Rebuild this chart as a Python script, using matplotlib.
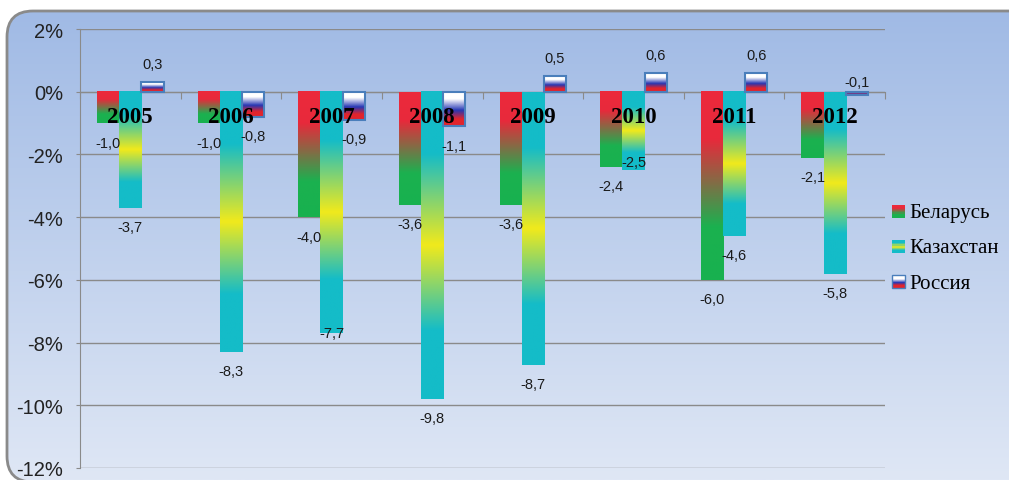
import numpy as np
import matplotlib
matplotlib.use("Agg")
from matplotlib import pyplot as plt
from matplotlib.colors import LinearSegmentedColormap
from matplotlib.patches import FancyBboxPatch, Rectangle
from matplotlib.legend_handler import HandlerBase

years = ['2005', '2006', '2007', '2008', '2009', '2010', '2011', '2012']
series = ['Беларусь', 'Казахстан', 'Россия']
belarus = [-1.0, -1.0, -4.0, -3.6, -3.6, -2.4, -6.0, -2.1]
kazakhstan = [-3.7, -8.3, -7.7, -9.8, -8.7, -2.5, -4.6, -5.8]
russia = [0.3, -0.8, -0.9, -1.1, 0.5, 0.6, 0.6, -0.1]
y_ticks = [2, 0, -2, -4, -6, -8, -10, -12]

# gradients, top -> bottom of each bar
cmaps = [
    LinearSegmentedColormap.from_list('by', [(0, '#ec2a3c'), (0.25, '#e8293b'), (0.72, '#1bb150'), (1, '#18b14f')]),
    LinearSegmentedColormap.from_list('kz', [(0, '#14bcc8'), (0.2, '#14bcc8'), (0.5, '#f3ea1a'), (0.78, '#14bcc8'), (1, '#14bcc8')]),
    LinearSegmentedColormap.from_list('ru', [(0, '#ffffff'), (0.22, '#ffffff'), (0.55, '#2637b4'), (0.8, '#e2242c'), (1, '#e2242c')]),
]
# manual label nudges (points), like the hand-moved labels in the original
nudge = {(1, 2): 14, (1, 5): 20, (2, 7): 24}

W, H = 1009, 481
fig = plt.figure(figsize=(W / 100, H / 100), dpi=100)
fig.patch.set_facecolor('white')

# background panel with rounded border and vertical gradient (pixel coords, y up)
bg = fig.add_axes([0, 0, 1, 1])
bg.axis('off')
panel = FancyBboxPatch((7, -2), W + 20, H - 12 + 2, boxstyle='round,pad=0,rounding_size=26',
                       fc='none', ec='#8a8a8a', lw=2, zorder=3)
bg.add_patch(panel)
grad = np.linspace(0, 1, 256)[:, None, None]
top_c = np.array([160, 186, 229]) / 255
bot_c = np.array([223, 231, 245]) / 255
img = bg.imshow(top_c + (bot_c - top_c) * grad, extent=(7, W, 0, H - 12),
                origin='upper', aspect='auto', zorder=1)
img.set_clip_path(panel)
bg.set_xlim(0, W)
bg.set_ylim(0, H)

ax = fig.add_axes([80 / W, 1 - 469 / H, 805 / W, 439 / H])
ax.patch.set_alpha(0)

w = 0.22
x = np.arange(len(years))
for s, vals in enumerate([belarus, kazakhstan, russia]):
    cm = cmaps[s]
    for i, v in enumerate(vals):
        x0 = x[i] + (s - 1) * w - w / 2
        ax.bar(x[i] + (s - 1) * w, v, w, color='none',
               edgecolor='#4a7ebb' if s == 2 else 'none', lw=1.5, zorder=4)
        ytop, ybot = max(v, 0), min(v, 0)
        g = cm(np.linspace(0, 1, 128))[:, None, :3]
        ax.imshow(g, extent=(x0, x0 + w, ybot, ytop), aspect='auto', zorder=3,
                  interpolation='bilinear')
        lab = f'{v:.1f}'.replace('.', ',')
        if v > 0:
            off = 13
        elif abs(v) < 0.2:
            off = 9
        else:
            off = -14 + nudge.get((s, i), 0)
        ax.annotate(lab, (x[i] + (s - 1) * w, v), xytext=(0, off), textcoords='offset points',
                    ha='center', va='center', fontsize=10.5, family='Liberation Sans',
                    color='#1a1a1a', zorder=6)

ax.set_xlim(-0.5, len(years) - 0.5)
ax.set_ylim(-12, 2)

for i, yr in enumerate(years):
    ax.annotate(yr, (x[i], 0), xytext=(0, -18), textcoords='offset points', ha='center',
                va='center', fontsize=16.5, fontweight='bold', family='Liberation Serif',
                color='black', zorder=7)

ax.set_yticks(y_ticks)
ax.set_yticklabels([f'{t}%' for t in y_ticks], fontsize=14.5, family='Liberation Sans', color='#222222')
ax.yaxis.grid(True, color='#8a8a8a', lw=1)
ax.set_axisbelow(True)
ax.tick_params(axis='y', length=3, color='#8a8a8a', pad=9)
ax.set_xticks(np.arange(len(years) + 1) - 0.5)
ax.set_xticklabels([])
ax.tick_params(axis='x', length=5, color='#8a8a8a', direction='out')
ax.spines['bottom'].set_position(('data', 0))
for sp in ['bottom', 'left']:
    ax.spines[sp].set_color('#8a8a8a')
    ax.spines[sp].set_zorder(2)
ax.spines['top'].set_visible(False)
ax.spines['right'].set_visible(False)


class GradHandler(HandlerBase):
    def __init__(self, cm, edge=None):
        super().__init__()
        self.cm = cm
        self.edge = edge

    def create_artists(self, legend, orig, xd, yd, width, height, fontsize, trans):
        n = 12
        arts = []
        cols = self.cm(np.linspace(0, 1, n))
        for k in range(n):
            arts.append(Rectangle((xd, yd + height * (n - 1 - k) / n), width, height / n,
                                  fc=cols[k], ec='none', transform=trans))
        if self.edge:
            arts.append(Rectangle((xd, yd), width, height, fc='none', ec=self.edge, lw=1,
                                  transform=trans))
        return arts


handles = [Rectangle((0, 0), 1, 1) for _ in series]
leg = ax.legend(handles, series, loc='center left', bbox_to_anchor=(882 / W, 1 - 249 / H),
                bbox_transform=fig.transFigure, frameon=False, borderpad=0,
                handlelength=0.6, handleheight=0.6, handletextpad=0.2, labelspacing=0.78,
                prop={'family': 'Liberation Serif', 'size': 15},
                handler_map={handles[0]: GradHandler(cmaps[0]),
                             handles[1]: GradHandler(cmaps[1]),
                             handles[2]: GradHandler(cmaps[2], '#4a7ebb')})
leg.set_zorder(8)

fig.savefig('out.png', dpi=100)
